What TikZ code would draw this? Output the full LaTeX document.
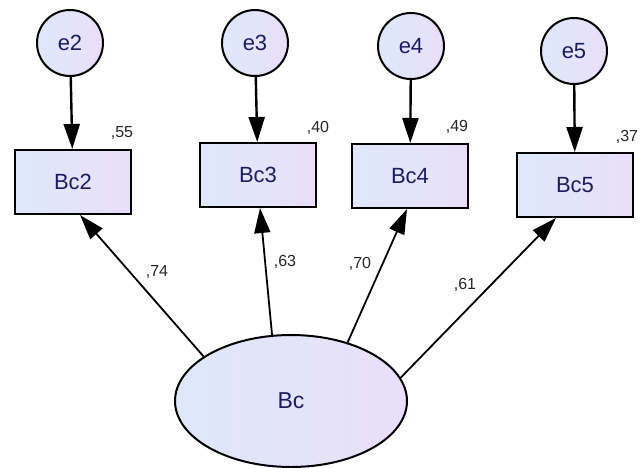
\documentclass[tikz,border=0pt]{standalone}
\usepackage{fontspec}
\setmainfont{Liberation Sans}
\usetikzlibrary{shapes.geometric, arrows.meta, positioning}
\definecolor{fillL}{RGB}{222,232,250}
\definecolor{fillR}{RGB}{233,223,250}
\definecolor{navy}{RGB}{28,28,96}

\begin{document}
\begin{tikzpicture}[
    x=1pt, y=-1pt,
    err/.style={circle, draw, line width=2pt, left color=fillL, right color=fillR, minimum size=66pt, inner sep=0pt, text=navy, font=\fontsize{22}{26}\selectfont},
    obs/.style={rectangle, draw, line width=2pt, left color=fillL, right color=fillR, minimum width=116pt, minimum height=64pt, text=navy, font=\fontsize{22}{26}\selectfont},
    lat/.style={ellipse, draw, line width=2pt, left color=fillL, right color=fillR, minimum width=232pt, minimum height=132pt, text=navy, font=\fontsize{23}{27}\selectfont},
    wt/.style={font=\fontsize{16}{19}\selectfont, text=black!85, inner sep=0pt},
    load/.style={draw, line width=1.8pt, -{Triangle[length=25pt,width=16pt]}},
    errpath/.style={load, line width=2.4pt}
]
\useasboundingbox (0,0) rectangle (641,467);

% Erreurs
\node[err] (e2) at (70,43) {e2};
\node[err] (e3) at (255,43) {e3};
\node[err] (e4) at (411,46) {e4};
\node[err] (e5) at (574,51) {e5};

% Indicateurs
\node[obs] (Bc2) at (73,182) {Bc2};
\node[obs] (Bc3) at (258,175) {Bc3};
\node[obs] (Bc4) at (410,176) {Bc4};
\node[obs] (Bc5) at (575,185) {Bc5};

% Variable latente
\node[lat] (Bc) at (291,401) {Bc};

% R2
\node[wt] (r2) at (122,133) {,55};
\node[wt] (r3) at (318,128) {,40};
\node[wt] (r4) at (457,127) {,49};
\node[wt] (r5) at (627,137) {,37};

% Erreurs -> indicateurs
\path[errpath] (e2) -- (Bc2);
\path[errpath] (e3) -- (Bc3);
\path[errpath] (e4) -- (Bc4);
\path[errpath] (e5) -- (Bc5);

% Charges factorielles
\path[load] (Bc.153) -- ([xshift=7pt]Bc2.south);
\path[load] (Bc.106) -- ([xshift=2pt]Bc3.south);
\path[load] (Bc.46) -- ([xshift=-3pt]Bc4.south);
\path[load] (Bc.12) -- ([xshift=-19pt]Bc5.south);

\node[wt] (l2) at (157,272) {,74};
\node[wt] (l3) at (285,262) {,63};
\node[wt] (l4) at (360,264) {,70};
\node[wt] (l5) at (465,285) {,61};

\end{tikzpicture}
\end{document}
